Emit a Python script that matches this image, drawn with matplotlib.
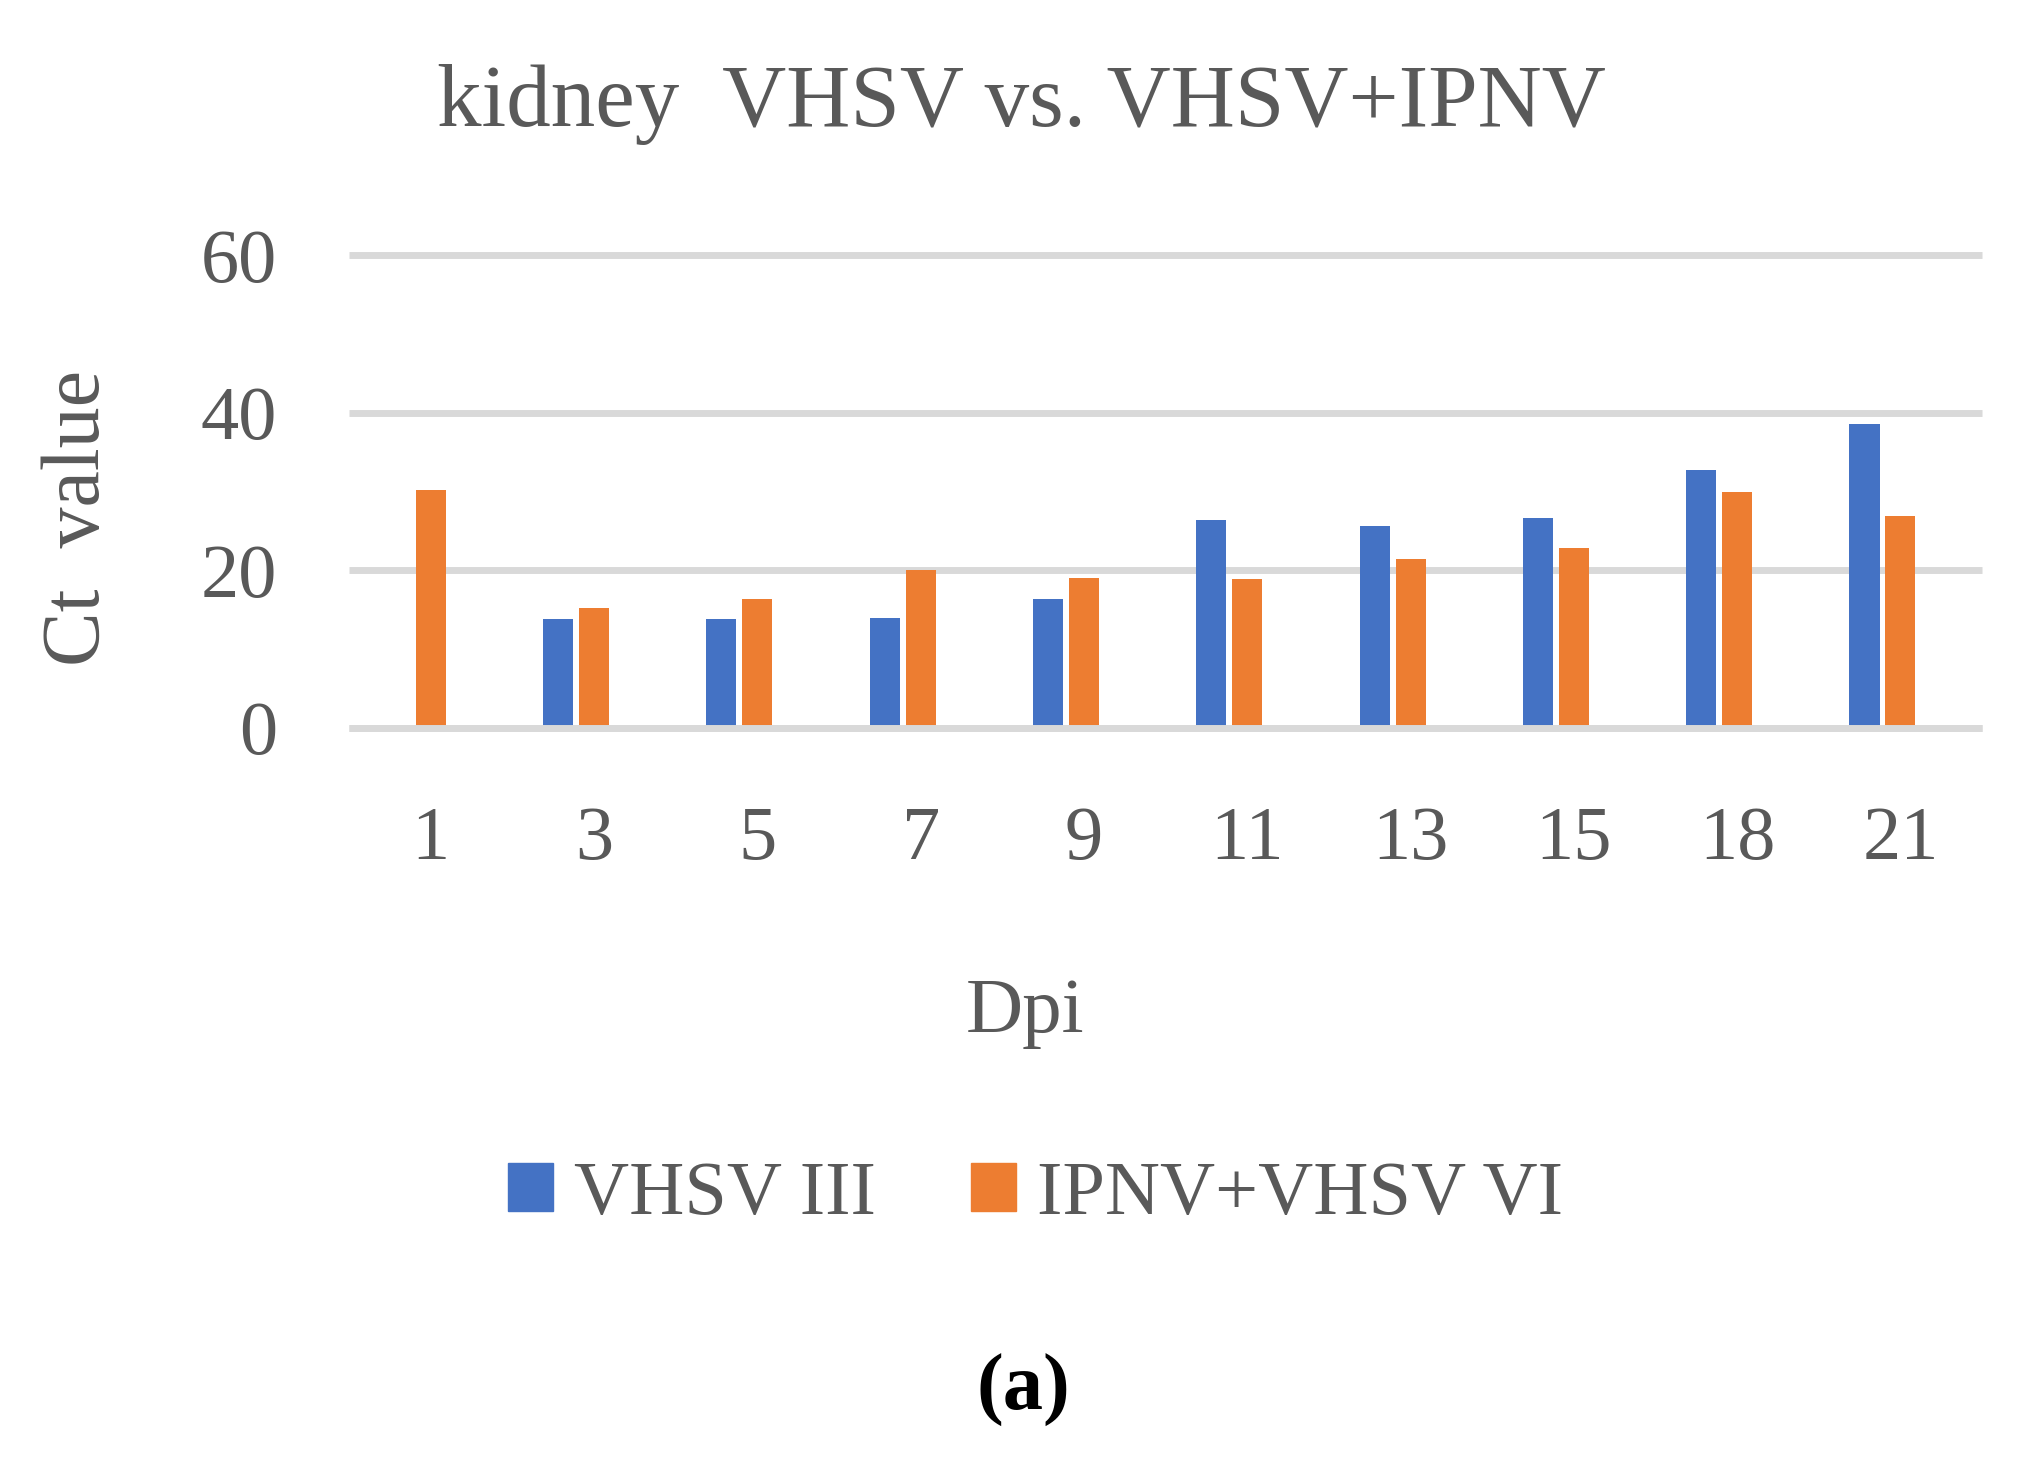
from matplotlib import pyplot as plt
from matplotlib.patches import Patch
import numpy as np

days = ['1', '3', '5', '7', '9', '11', '13', '15', '18', '21']
vhsv_iii = [np.nan, 13.8, 13.8, 14.0, 16.4, 26.4, 25.7, 26.6, 32.7, 38.6]
ipnv_vhsv_vi = [30.2, 15.2, 16.4, 20.0, 19.0, 18.9, 21.4, 22.8, 30.0, 26.9]
y_ticks = [0, 20, 40, 60]

blue = '#4472C4'
orange = '#ED7D31'
grey_txt = '#595959'
grid_col = '#D9D9D9'

plt.rcParams['font.family'] = ['Liberation Serif', 'DejaVu Serif']

fig = plt.figure(figsize=(20.3, 14.79), dpi=100)
ax = fig.add_axes([0.172, 0.5078, 0.8044, 0.3195])

x = np.arange(len(days))
w = 0.184
# excel chart had a third (empty) series, so the orange bar sits on the tick
ax.bar(x - 0.22, vhsv_iii, w, color=blue, zorder=2)
ax.bar(x, ipnv_vhsv_vi, w, color=orange, zorder=2)

ax.set_xlim(-0.5, len(days) - 0.5)
ax.set_ylim(0, 60)
ax.set_yticks(y_ticks)
ax.set_xticks(x)
ax.set_xticklabels(days)
ax.yaxis.grid(True, color=grid_col, linewidth=5, zorder=0)
ax.set_axisbelow(True)
for gl in ax.get_ygridlines():
    gl.set_clip_on(False)
    gl.set_solid_capstyle('butt')
ax.axhline(0, color=grid_col, linewidth=5, zorder=3, clip_on=False,
           solid_capstyle='butt')
for s in ax.spines.values():
    s.set_visible(False)
ax.tick_params(axis='both', length=0, labelsize=55, colors=grey_txt)
ax.tick_params(axis='y', pad=52)
ax.tick_params(axis='x', pad=56)

fig.text(0.503, 0.915, 'kidney  VHSV vs. VHSV+IPNV', fontsize=64, color=grey_txt,
         ha='center', va='baseline')
fig.text(0.039, 0.6498, 'Ct  value', fontsize=59, color=grey_txt, rotation=90,
         ha='center', va='center')
fig.text(0.505, 0.302, 'Dpi', fontsize=57, color=grey_txt, ha='center', va='baseline')

handles = [Patch(color=blue, label='VHSV III'), Patch(color=orange, label='IPNV+VHSV VI')]
fig.legend(handles=handles, loc='center', bbox_to_anchor=(0.510, 0.1916), ncol=2,
           frameon=False, fontsize=55, labelcolor=grey_txt, handlelength=0.59,
           handleheight=0.59, handletextpad=0.28, columnspacing=1.24, borderpad=0)

fig.text(0.504, 0.0467, '(a)', fontsize=58, fontweight='bold', color='black',
         ha='center', va='baseline')

plt.savefig('out.png', dpi=100)
